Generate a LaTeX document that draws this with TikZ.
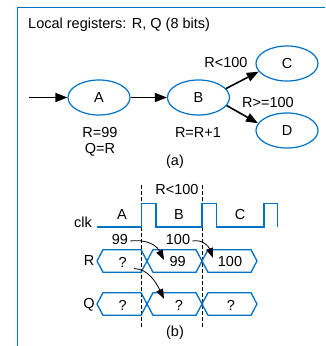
\documentclass[tikz,border=0pt]{standalone}
\usepackage{fontspec}
\setmainfont{Liberation Sans}
\usetikzlibrary{arrows.meta,shapes.geometric}
\definecolor{myblue}{RGB}{0,114,198}
\begin{document}
\begin{tikzpicture}[x=1pt,y=-1pt,
  stt/.style={ellipse,draw=myblue,line width=1.2pt,minimum width=62pt,minimum height=35pt,inner sep=0pt,font=\fontsize{14.5}{16}\selectfont},
  lbl/.style={inner sep=0pt,font=\fontsize{14.5}{16}\selectfont},
  bigarr/.style={-{Triangle[length=12pt,width=9pt]},line width=1.6pt},
  smallarr/.style={-{Triangle[length=10pt,width=7pt]},line width=0.8pt},
  wave/.style={draw=myblue,line width=1.3pt},
  guide/.style={draw=black,line width=0.8pt,dash pattern=on 4pt off 2pt},
  frame/.style={draw=myblue,line width=1pt}
]
\useasboundingbox (0,0) rectangle (325,346);
% frame
\draw[frame] (17.5,346) -- (17.5,7) -- (325,7);
\node[lbl,anchor=west] (title) at (28,25) {Local registers: R, Q (8 bits)};
% (a) state diagram
\node[stt] (A) at (99,97.5) {A};
\node[stt] (B) at (198.5,97.5) {B};
\node[stt] (C) at (287,63.5) {C};
\node[stt] (D) at (287,130.5) {D};
\coordinate (start) at (29,97.5);
\draw[bigarr] (start) -- (A);
\draw[bigarr] (A) -- (B);
\draw[bigarr] (B.18) -- (C.196);
\draw[bigarr] (B.-16) -- (D.166);
\node[lbl] (lc) at (226,63) {R<100};
\node[lbl] (ld) at (268,103) {R>=100};
\node[lbl] (la1) at (100,133) {R=99};
\node[lbl] (la2) at (100,150) {Q=R};
\node[lbl] (lb) at (198,133) {R=R+1};
\node[lbl] (capa) at (175,162) {(a)};
% (b) timing diagram
\node[lbl] (cond) at (177,190) {R<100};
\draw[guide] (141.7,185) -- (141.7,327);
\draw[guide] (202,185) -- (202,327);
\node[lbl] (clk) at (83,222) {clk};
\draw[wave] (97,227) -- (141.7,227) -- (141.7,203.3) -- (156,203.3) -- (156,227)
  -- (202,227) -- (202,203.3) -- (216.7,203.3) -- (216.7,227)
  -- (264,227) -- (264,203.3) -- (277.7,203.3) -- (277.7,227);
\node[lbl] (sa) at (122,215) {A};
\node[lbl] (sb) at (179,215) {B};
\node[lbl] (sc) at (240,215) {C};
% R and Q buses
\foreach \y in {261,304}{
  \foreach \l/\r in {97/147,147/202,202/257}{
    \draw[wave,line join=miter] (\l,\y) -- (\l+6,\y-11.3) -- (\r-6,\y-11.3) -- (\r,\y)
      -- (\r-6,\y+11.3) -- (\l+6,\y+11.3) -- cycle;
  }
}
\node[lbl] (rl) at (89,261) {R};
\node[lbl] (ql) at (89,305) {Q};
\node[lbl] (r1) at (122.7,262) {?};
\node[lbl] (r2) at (177.7,262) {99};
\node[lbl] (r3) at (230,262) {100};
\node[lbl] (q1) at (122.7,305) {?};
\node[lbl] (q2) at (179,305) {?};
\node[lbl] (q3) at (231,305) {?};
\node[lbl] (n99) at (120,240) {99};
\node[lbl] (n100) at (178,240) {100};
\coordinate (e1) at (164,260);
\coordinate (e2) at (213,258);
\coordinate (s3) at (134,268.5);
\coordinate (e3) at (164,299);
\draw[smallarr] ([xshift=2pt,yshift=-1pt]n99.east) .. controls (148,239) and (157,246) .. (e1);
\draw[smallarr] ([xshift=2pt,yshift=-1pt]n100.east) .. controls (203,239) and (209,247) .. (e2);
\draw[smallarr] (s3) .. controls (148,269) and (156,282) .. (e3);
\node[lbl] (capb) at (175,333) {(b)};
\end{tikzpicture}
\end{document}
